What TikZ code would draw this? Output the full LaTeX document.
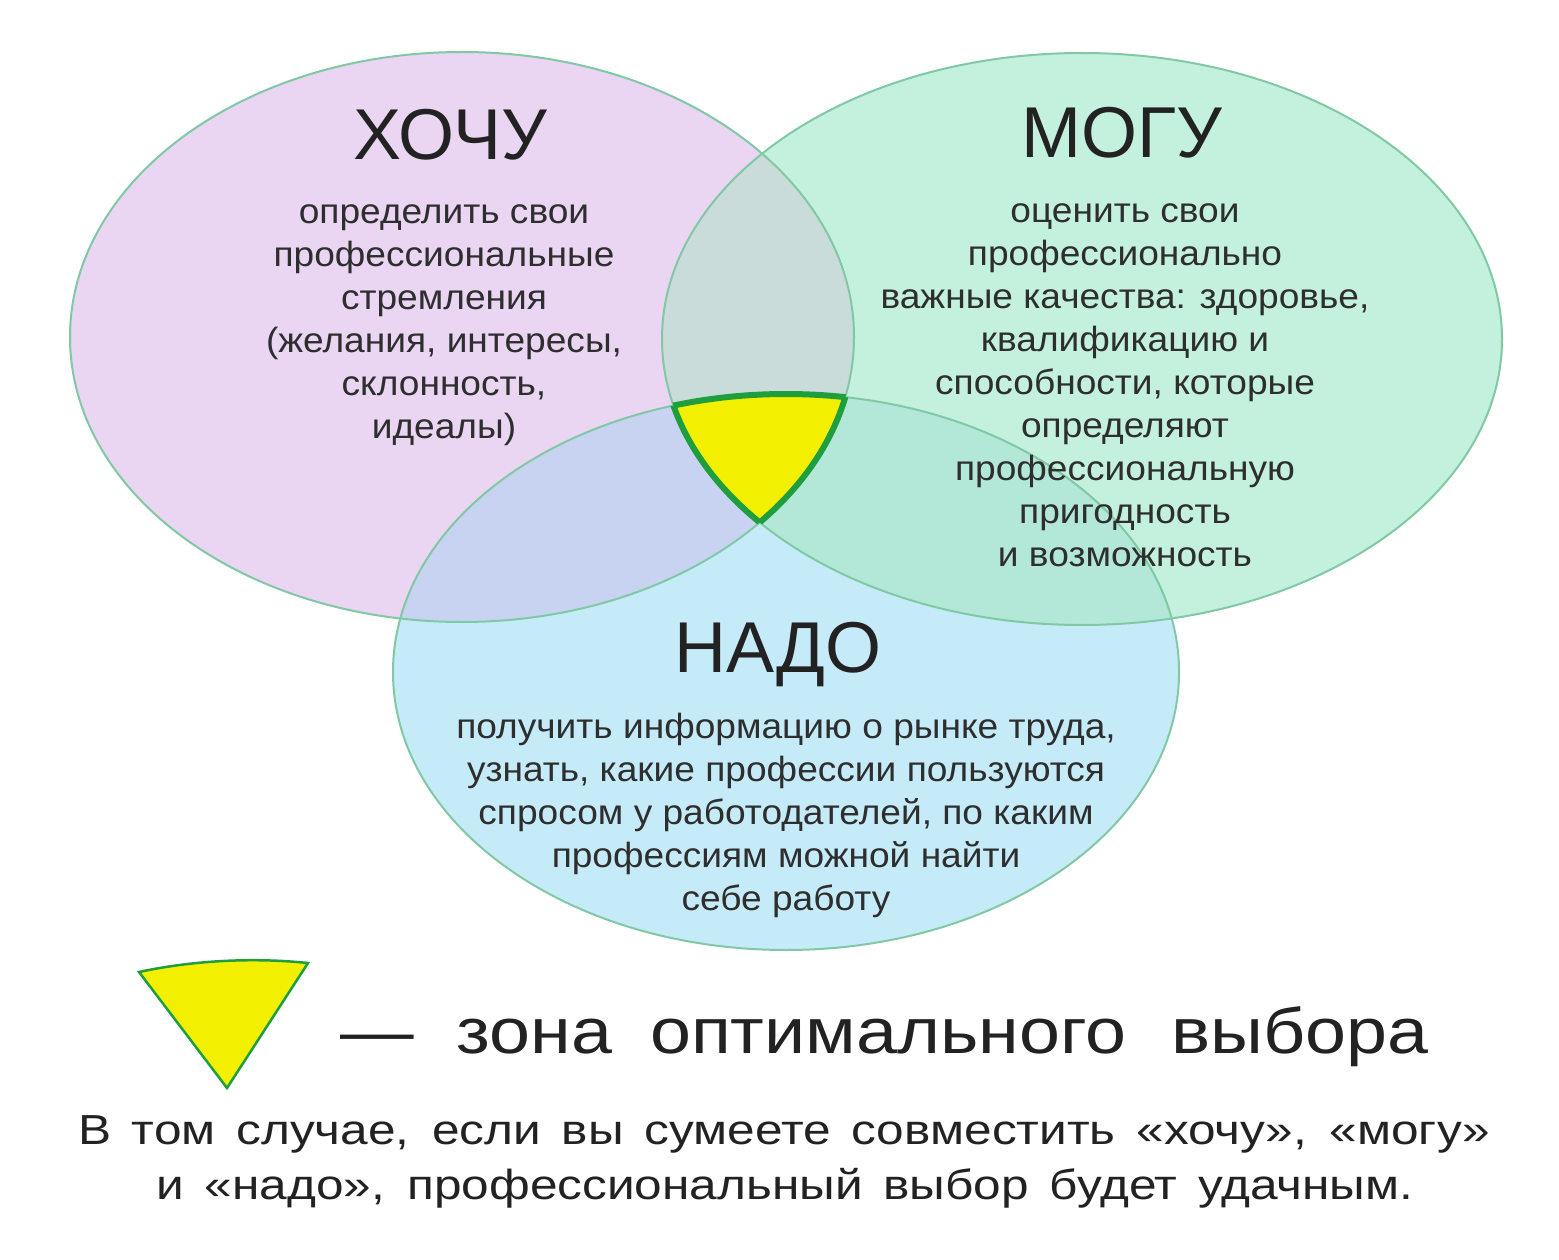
\documentclass[tikz,border=0pt]{standalone}
\usepackage{fontspec}
\setmainfont{Liberation Sans}
\newfontfamily\bodyf[FakeStretch=1.06]{Liberation Sans}
\newfontfamily\legf[FakeStretch=1.15]{Liberation Sans}
\newfontfamily\paraf[FakeStretch=1.18]{Liberation Sans}
\definecolor{cL}{HTML}{EAD5F3}
\definecolor{cR}{HTML}{C3F1DE}
\definecolor{cB}{HTML}{C6EBF8}
\definecolor{cLR}{HTML}{C9DCDA}
\definecolor{cLB}{HTML}{C7D3F1}
\definecolor{cRB}{HTML}{B3E8D9}
\definecolor{cEdge}{HTML}{80C9A4}
\definecolor{cY}{HTML}{F2F000}
\definecolor{cYB}{HTML}{1F9E3E}
\definecolor{cTxt}{HTML}{222222}
\newcommand\ellL{(462,337) ellipse [x radius=392pt, y radius=285pt]}
\newcommand\ellR{(1082,339) ellipse [x radius=420pt, y radius=286pt]}
\newcommand\ellB{(786,672) ellipse [x radius=393pt, y radius=278pt]}
\newcommand\topstrut{\rule{0pt}{28pt}}
\begin{document}
\begin{tikzpicture}[x=1pt,y=-1pt,
  edge/.style={draw=cEdge, line width=2pt},
  ybord/.style={draw=cYB, line width=6pt},
  titletext/.style={font=\fontsize{72}{80}\selectfont, anchor=base, inner sep=0pt, text=cTxt},
  bodytext/.style={font=\bodyf\fontsize{35}{43}\selectfont, align=center, anchor=north, inner sep=0pt, text=black!82},
  legtext/.style={font=\legf\fontsize{64}{70}\selectfont, anchor=base west, inner sep=0pt, text=cTxt},
  paratext/.style={font=\paraf\fontsize{42}{50}\selectfont, anchor=base, inner sep=0pt, text=cTxt}]
\useasboundingbox (0,0) rectangle (1559,1260);
\fill[white] (0,0) rectangle (1559,1260);
% base fills
\fill[cL] \ellL;
\fill[cR] \ellR;
\fill[cB] \ellB;
% pairwise overlaps
\begin{scope}\clip \ellL; \fill[cLR] \ellR; \end{scope}
\begin{scope}\clip \ellL; \fill[cLB] \ellB; \end{scope}
\begin{scope}\clip \ellR; \fill[cRB] \ellB; \end{scope}
% outlines
\draw[edge] \ellL;
\draw[edge] \ellR;
\draw[edge] \ellB;
% triple overlap
\begin{scope}\clip \ellL; \clip \ellR; \fill[cY] \ellB; \end{scope}
\begin{scope}\clip \ellR; \clip \ellB; \draw[ybord] \ellL; \end{scope}
\begin{scope}\clip \ellL; \clip \ellB; \draw[ybord] \ellR; \end{scope}
\begin{scope}\clip \ellL; \clip \ellR; \draw[ybord] \ellB; \end{scope}
% titles
\node[titletext] (hochu) at (450,160) {ХОЧУ};
\node[titletext] (mogu) at (1122,158) {МОГУ};
\node[titletext] (nado) at (778,672) {НАДО};
% bodies
\node[bodytext] (hochutxt) at (444,195) {\topstrut определить свои\\профессиональные\\стремления\\(желания, интересы,\\склонность,\\идеалы)};
\node[bodytext] (mogutxt) at (1125,194) {\topstrut оценить свои\\профессионально\\важные качества: здоровье,\\квалификацию и\\способности, которые\\определяют\\профессиональную\\пригодность\\и возможность};
\node[bodytext] (nadotxt) at (786,710) {\topstrut получить информацию о рынке труда,\\узнать, какие профессии пользуются\\спросом у работодателей, по каким\\профессиям можной найти\\себе работу};
% legend
\draw[draw=cYB, line width=2.5pt, fill=cY] (139,972) .. controls (190,961) and (250,957) .. (308,963) -- (227,1088) -- cycle;
\node[legtext] (legend) at (340,1053) {—\hspace{43pt}зона\hspace{38pt}оптимального\hspace{45pt}выбора};
\node[paratext] (para1) at (784,1144) {\makebox[1412pt][s]{В том случае, если вы сумеете совместить «хочу», «могу»}};
\node[paratext] (para2) at (785,1199) {\makebox[1257pt][s]{и «надо», профессиональный выбор будет удачным.}};
\end{tikzpicture}
\end{document}
